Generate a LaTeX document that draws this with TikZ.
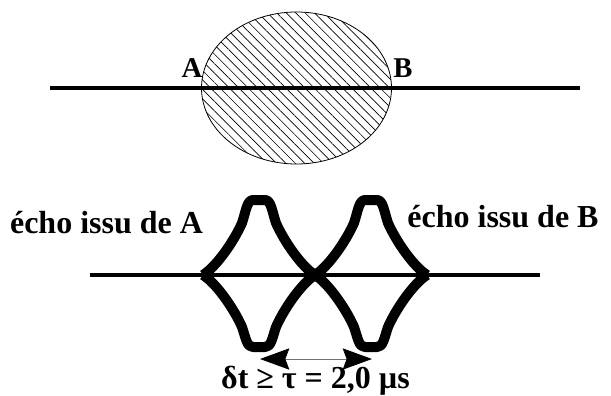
\documentclass[tikz,border=0pt]{standalone}
\usepackage{fontspec}
\setmainfont{Liberation Serif}
\usetikzlibrary{arrows.meta,patterns.meta}

\begin{document}
\begin{tikzpicture}[x=0.75pt,y=-0.75pt,
 axe/.style={line width=3.2pt},
 echo/.style={line width=7.5pt,line join=round},
 lbl/.style={font=\fontsize{24}{28}\selectfont\bfseries,inner sep=0pt,anchor=base},
 pt/.style={font=\fontsize{21.5}{26}\selectfont\bfseries,inner sep=0pt,anchor=base},
 ecart/.style={draw=black!55,line width=0.7pt,
   arrows={Stealth[length=22pt,width=16pt,inset=3pt,color=black]-Stealth[length=22pt,width=16pt,inset=3pt,color=black]}}]
 \useasboundingbox (0,0) rectangle (611,396);
 % cible hachuree et trajet
 \draw[line width=0.6pt,pattern={Lines[angle=-45,distance=5pt,line width=0.5pt]}]
   (296.5,88) ellipse [x radius=95, y radius=76];
 \coordinate (g1) at (50,88);
 \coordinate (g2) at (580,88);
 \draw[axe] (g1) -- (g2);
 \node[pt] (A) at (192,77) {A};
 \node[pt] (B) at (403,77) {B};
 % echos
 \coordinate (h1) at (90,275);
 \coordinate (h2) at (540,275);
 \draw[axe] (h1) -- (h2);
 \foreach \c in {259,371}{
  \foreach \s/\h in {1/75,-1/72}{
   \begin{scope}[shift={(\c,275)},yscale=\s]
    \draw[echo] (-56,0) .. controls (-42,-9) and (-25,-34) .. (-17,-52)
      .. controls (-13,-64) and (-12,-\h) .. (-6,-\h) -- (6,-\h)
      .. controls (12,-\h) and (13,-64) .. (17,-52)
      .. controls (25,-34) and (42,-9) .. (56,0);
   \end{scope}
  }
 }
 \node[lbl] (ea) at (106.5,233) {écho issu de A};
 \node[lbl] (eb) at (503,227) {écho issu de B};
 % ecart temporel
 \coordinate (t1) at (260,359);
 \coordinate (t2) at (372,359);
 \draw[ecart] (t1) -- (t2);
 \node[lbl] (dt) at (315.5,388) {δt ≥ τ = 2,0 µs};
\end{tikzpicture}
\end{document}
